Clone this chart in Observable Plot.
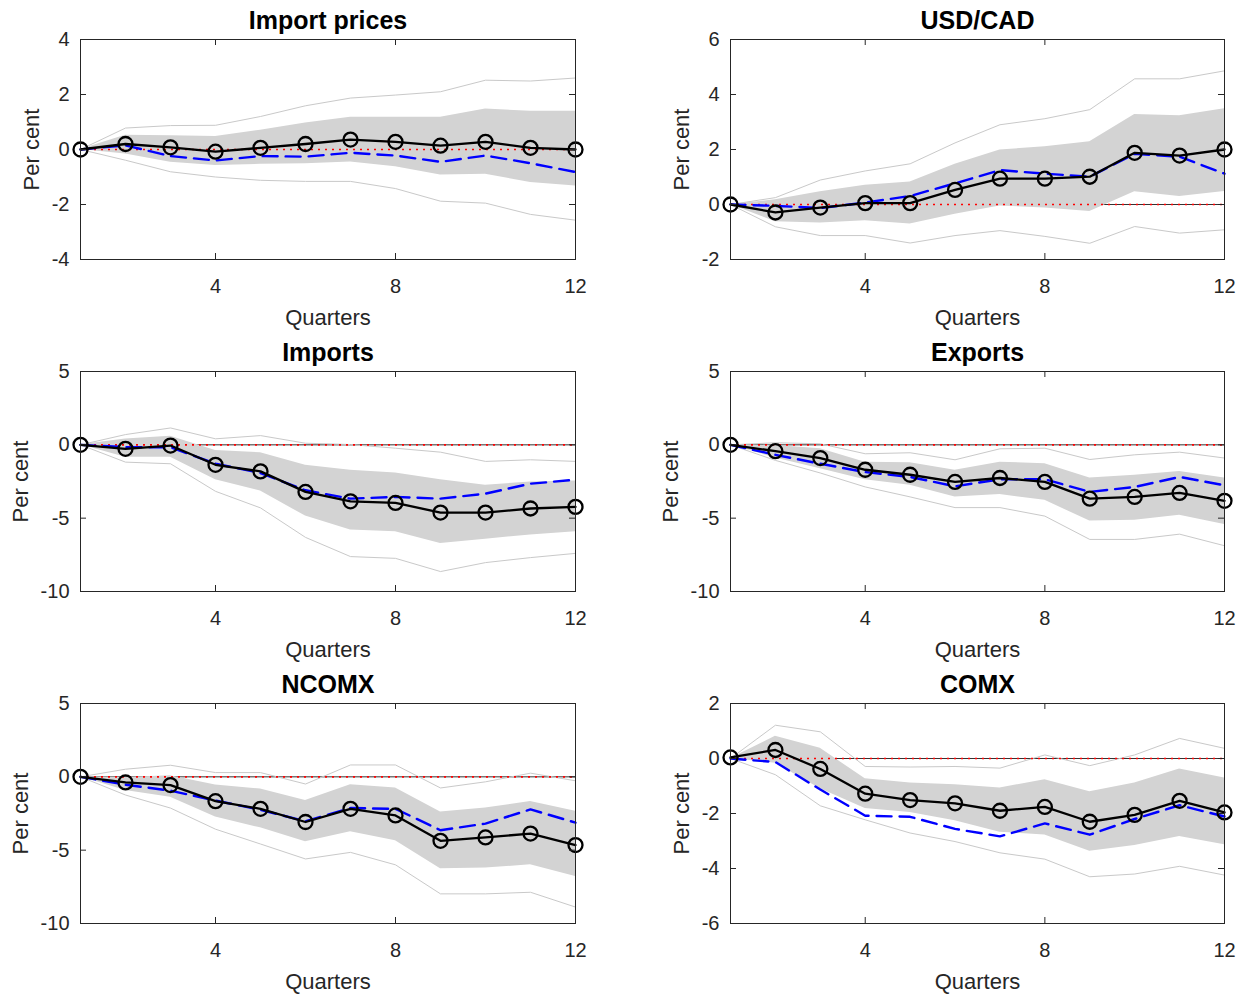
<!DOCTYPE html>
<html><head><meta charset="utf-8">
<script src="https://cdn.jsdelivr.net/npm/d3@7"></script>
<script src="https://cdn.jsdelivr.net/npm/@observablehq/plot@0.6"></script>
<style>
html,body{margin:0;padding:0;background:#fff;overflow:hidden}
#chart{position:relative;width:1246px;height:999px;overflow:hidden}
.panel{position:absolute}
.panel svg{max-width:none !important}
</style></head><body><div id="chart"></div>
<script>
// ---------- data ----------
const quarters = [1, 2, 3, 4, 5, 6, 7, 8, 9, 10, 11, 12];
const xTicks = [4, 8, 12];
const titles = ["Import prices", "USD/CAD", "Imports", "Exports", "NCOMX", "COMX"];
const xLabel = "Quarters";
const yLabel = "Per cent";

// Import prices
const ipTicks = [-4, -2, 0, 2, 4];
const ipResp = [0, 0.2, 0.08, -0.08, 0.06, 0.2, 0.36, 0.28, 0.14, 0.28, 0.06, 0.0];
const ipAlt  = [0, 0.15, -0.24, -0.4, -0.24, -0.26, -0.12, -0.22, -0.45, -0.22, -0.5, -0.82];
const ipHi68 = [0, 0.52, 0.5, 0.47, 0.7, 0.96, 1.17, 1.17, 1.17, 1.47, 1.39, 1.39];
const ipLo68 = [0, -0.16, -0.46, -0.58, -0.54, -0.52, -0.45, -0.63, -0.93, -0.9, -1.2, -1.33];
const ipHi90 = [0, 0.78, 0.87, 0.88, 1.2, 1.59, 1.87, 1.98, 2.1, 2.52, 2.49, 2.6];
const ipLo90 = [0, -0.39, -0.81, -1.0, -1.12, -1.16, -1.16, -1.42, -1.88, -1.95, -2.36, -2.57];

// USD/CAD
const fxTicks = [-2, 0, 2, 4, 6];
const fxResp = [0, -0.29, -0.11, 0.05, 0.05, 0.53, 0.94, 0.94, 1.01, 1.88, 1.78, 2.0];
const fxAlt  = [0, -0.05, -0.13, 0.07, 0.31, 0.77, 1.25, 1.12, 1.01, 1.84, 1.74, 1.12];
const fxHi68 = [0, 0.17, 0.46, 0.7, 0.82, 1.46, 1.98, 2.1, 2.28, 3.27, 3.23, 3.48];
const fxLo68 = [0, -0.63, -0.67, -0.59, -0.71, -0.35, -0.05, -0.13, -0.25, 0.46, 0.29, 0.47];
const fxHi90 = [0, 0.25, 0.89, 1.22, 1.48, 2.24, 2.9, 3.12, 3.45, 4.57, 4.57, 4.86];
const fxLo90 = [0, -0.81, -1.13, -1.13, -1.4, -1.13, -0.95, -1.16, -1.41, -0.8, -1.04, -0.92];

// Imports
const tradeTicks = [-10, -5, 0, 5];
const imResp = [0, -0.27, -0.05, -1.36, -1.81, -3.21, -3.85, -3.96, -4.62, -4.62, -4.34, -4.23];
const imAlt  = [0, -0.16, -0.16, -1.29, -1.92, -3.1, -3.67, -3.55, -3.67, -3.33, -2.65, -2.38];
const imHi68 = [0, 0.4, 0.59, -0.38, -0.54, -1.4, -1.74, -1.92, -2.38, -2.76, -2.53, -2.47];
const imLo68 = [0, -0.84, -0.84, -2.38, -3.15, -4.86, -5.81, -5.93, -6.72, -6.43, -6.15, -5.93];
const imHi90 = [0, 0.7, 1.15, 0.41, 0.63, 0.11, 0.02, -0.23, -0.5, -1.13, -1.02, -1.13];
const imLo90 = [0, -1.18, -1.29, -3.17, -4.3, -6.31, -7.62, -7.74, -8.64, -8.03, -7.69, -7.4];

// Exports
const exResp = [0, -0.43, -0.9, -1.7, -2.04, -2.53, -2.26, -2.53, -3.67, -3.55, -3.28, -3.82];
const exAlt  = [0, -0.68, -1.29, -1.86, -2.19, -2.83, -2.35, -2.35, -3.21, -2.87, -2.19, -2.76];
const exHi68 = [0, -0.05, -0.27, -1.18, -1.22, -1.74, -1.18, -1.29, -2.26, -2.08, -1.81, -2.26];
const exLo68 = [0, -0.9, -1.63, -2.38, -2.76, -3.55, -3.39, -3.78, -5.2, -5.14, -4.8, -5.43];
const exHi90 = [0, 0.14, 0.07, -0.61, -0.54, -1.02, -0.27, -0.23, -1.0, -0.68, -0.5, -0.9];
const exLo90 = [0, -1.06, -1.92, -2.87, -3.55, -4.28, -4.28, -4.86, -6.45, -6.45, -6.09, -6.88];

// NCOMX
const ncResp = [0, -0.38, -0.56, -1.66, -2.18, -3.08, -2.18, -2.63, -4.36, -4.13, -3.87, -4.65];
const ncAlt  = [0, -0.54, -0.94, -1.62, -2.25, -3.03, -2.13, -2.18, -3.64, -3.19, -2.22, -3.12];
const ncHi68 = [0, -0.04, 0.07, -0.56, -0.83, -1.62, -0.54, -0.76, -2.4, -2.13, -1.69, -2.34];
const ncLo68 = [0, -0.94, -1.39, -2.74, -3.48, -4.43, -3.75, -4.36, -6.27, -6.22, -6.0, -6.79];
const ncHi90 = [0, 0.52, 0.79, 0.29, 0.29, -0.49, 0.81, 0.81, -0.76, -0.34, 0.25, -0.27];
const ncLo90 = [0, -1.24, -2.13, -3.57, -4.58, -5.6, -5.15, -6.0, -7.98, -7.98, -7.87, -8.88];

// COMX
const coTicks = [-6, -4, -2, 0, 2];
const coResp = [0.04, 0.31, -0.38, -1.28, -1.51, -1.63, -1.9, -1.76, -2.3, -2.05, -1.54, -1.96];
const coAlt  = [0, -0.13, -1.13, -2.08, -2.12, -2.56, -2.83, -2.36, -2.77, -2.2, -1.7, -2.11];
const coHi68 = [0, 0.81, 0.37, -0.74, -0.89, -0.95, -1.07, -0.77, -1.21, -0.89, -0.38, -0.71];
const coLo68 = [0, -0.17, -1.1, -1.82, -1.96, -2.26, -2.68, -2.78, -3.37, -3.16, -2.84, -3.14];
const coHi90 = [0, 1.21, 0.97, -0.29, -0.31, -0.29, -0.35, 0.13, -0.26, 0.13, 0.73, 0.37];
const coLo90 = [0, -0.59, -1.72, -2.23, -2.71, -3.02, -3.43, -3.66, -4.3, -4.2, -3.92, -4.24];

// ---------- layout ----------
const FONT = "'Liberation Sans', Arial, Helvetica, sans-serif";
const FH = 220;                 // frame height
const colLeft = [80, 730];      // frame left edges
const colWidth = [495, 494];    // frame widths
const rowTop = [39, 371, 703];  // frame top edges
const ML = 80, MR = 22, MT = 45, MB = 75;

const panels = [
  {title: titles[0], domain: [-4, 4],  ticks: ipTicks,    labelDx: 49, s: [ipResp, ipAlt, ipLo68, ipHi68, ipLo90, ipHi90]},
  {title: titles[1], domain: [-2, 6],  ticks: fxTicks,    labelDx: 49, s: [fxResp, fxAlt, fxLo68, fxHi68, fxLo90, fxHi90]},
  {title: titles[2], domain: [-10, 5], ticks: tradeTicks, labelDx: 60, s: [imResp, imAlt, imLo68, imHi68, imLo90, imHi90]},
  {title: titles[3], domain: [-10, 5], ticks: tradeTicks, labelDx: 60, s: [exResp, exAlt, exLo68, exHi68, exLo90, exHi90]},
  {title: titles[4], domain: [-10, 5], ticks: tradeTicks, labelDx: 60, s: [ncResp, ncAlt, ncLo68, ncHi68, ncLo90, ncHi90]},
  {title: titles[5], domain: [-6, 2],  ticks: coTicks,    labelDx: 49, s: [coResp, coAlt, coLo68, coHi68, coLo90, coHi90]}
];

function makePanel(p, fw) {
  const [resp, alt, lo68, hi68, lo90, hi90] = p.s;
  const data = quarters.map((q, i) => ({q, resp: resp[i], alt: alt[i], lo68: lo68[i], hi68: hi68[i], lo90: lo90[i], hi90: hi90[i]}));
  const axisCol = "#262626";
  return Plot.plot({
    width: ML + fw + MR, height: MT + FH + MB,
    marginLeft: ML, marginRight: MR, marginTop: MT, marginBottom: MB,
    x: {domain: [1, 12]},
    y: {domain: p.domain},
    style: {fontFamily: FONT, background: "transparent", overflow: "visible", color: axisCol, maxWidth: "none"},
    marks: [
      Plot.ruleY([0], {stroke: "#333333", strokeWidth: 1}),
      Plot.areaY(data, {x: "q", y1: "lo68", y2: "hi68", fill: "#d3d3d3"}),
      Plot.lineY(data, {x: "q", y: "hi90", stroke: "#c9c9c9", strokeWidth: 1}),
      Plot.lineY(data, {x: "q", y: "lo90", stroke: "#c9c9c9", strokeWidth: 1}),
      Plot.ruleY([0], {stroke: "#ff0000", strokeWidth: 1.6, strokeDasharray: "2,5"}),
      Plot.lineY(data, {x: "q", y: "alt", stroke: "#0000ff", strokeWidth: 2.4, strokeDasharray: "15,8"}),
      Plot.lineY(data, {x: "q", y: "resp", stroke: "#000000", strokeWidth: 2.3}),
      Plot.dot(data, {x: "q", y: "resp", r: 7, stroke: "#000000", strokeWidth: 2.3, fill: "none"}),
      Plot.tickX(xTicks, {x: d => d, insetTop: FH - 6, stroke: axisCol}),
      Plot.tickX(xTicks, {x: d => d, insetBottom: FH - 6, stroke: axisCol}),
      Plot.tickY(p.ticks, {y: d => d, insetRight: fw - 6, stroke: axisCol}),
      Plot.tickY(p.ticks, {y: d => d, insetLeft: fw - 6, stroke: axisCol}),
      Plot.frame({stroke: axisCol}),
      Plot.axisX({ticks: xTicks, tickSize: 0, tickPadding: 19, fontSize: 20, label: null, fill: axisCol}),
      Plot.axisY({ticks: p.ticks, tickSize: 0, tickPadding: 11, fontSize: 20, label: null, tickFormat: d => String(d), fill: axisCol}),
      Plot.text([xLabel], {text: d => d, frameAnchor: "bottom", dy: 50, lineAnchor: "top", textAnchor: "middle", fontSize: 22, fill: axisCol}),
      Plot.text([yLabel], {text: d => d, frameAnchor: "left", dx: -p.labelDx, rotate: -90, textAnchor: "middle", lineAnchor: "middle", fontSize: 22, fill: axisCol}),
      Plot.text([p.title], {text: d => d, frameAnchor: "top", dy: -11, lineAnchor: "bottom", textAnchor: "middle", fontSize: 25, fontWeight: "bold", fill: "#000000"})
    ]
  });
}

const chart = document.getElementById("chart");
panels.forEach((p, i) => {
  const col = i % 2, row = Math.floor(i / 2);
  const fw = colWidth[col];
  const div = document.createElement("div");
  div.className = "panel";
  div.style.left = (colLeft[col] - ML) + "px";
  div.style.top = (rowTop[row] - MT) + "px";
  div.style.width = (ML + fw + MR) + "px";
  div.style.height = (MT + FH + MB) + "px";
  div.appendChild(makePanel(p, fw));
  chart.appendChild(div);
});
</script>
</body></html>
